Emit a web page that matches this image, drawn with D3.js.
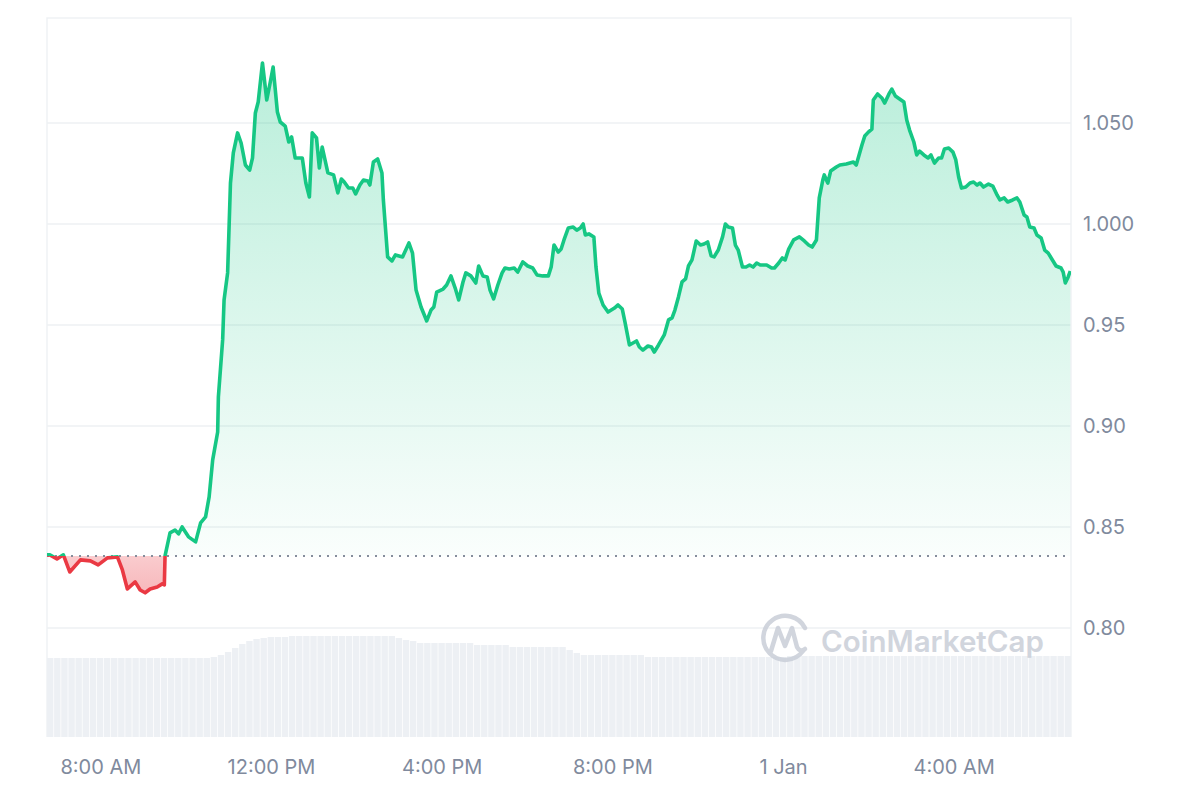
<!DOCTYPE html>
<html>
<head>
<meta charset="utf-8">
<script src="https://cdn.jsdelivr.net/npm/d3@7"></script>
<style>
  body { margin: 0; background: #fff; }
  svg { display: block; font-family: Inter, "Noto Sans", sans-serif; }
</style>
</head>
<body>
<script>
'use strict';

// minutes since 31 Dec 00:00
const times = [
  405, 409, 419, 428, 437, 452, 466, 477, 490, 504, 511, 518, 529, 536, 543, 550, 560, 567, 570, 571,
  578, 585, 590, 595, 604, 614, 621, 628, 633, 638, 645, 646, 652, 654, 659, 663, 667, 673, 678, 684,
  690, 694, 698, 702, 708, 714, 719, 723, 729, 733, 740, 745, 749, 754, 764, 769, 774, 778, 784, 788,
  792, 800, 808, 814, 819, 823, 829, 835, 839, 845, 850, 856, 859, 864, 870, 876, 878, 884, 890, 895,
  905, 914, 919, 924, 931, 939, 945, 949, 953, 962, 967, 973, 979, 984, 990, 994, 1001, 1008, 1012, 1018,
  1024, 1028, 1033, 1039, 1045, 1049, 1055, 1062, 1067, 1074, 1081, 1088, 1094, 1102, 1110, 1114, 1118, 1124, 1128, 1132,
  1138, 1145, 1150, 1155, 1159, 1162, 1167, 1174, 1177, 1181, 1187, 1194, 1203, 1208, 1214, 1218, 1224, 1229, 1234, 1238,
  1243, 1250, 1255, 1259, 1265, 1269, 1273, 1279, 1284, 1288, 1293, 1298, 1303, 1307, 1312, 1318, 1324, 1329, 1334, 1339,
  1343, 1349, 1355, 1359, 1363, 1369, 1373, 1377, 1383, 1388, 1393, 1398, 1403, 1408, 1417, 1424, 1428, 1434, 1439, 1443,
  1448, 1455, 1463, 1470, 1476, 1481, 1487, 1491, 1496, 1498, 1503, 1507, 1515, 1520, 1529, 1539, 1543, 1551, 1555, 1560,
  1565, 1567, 1573, 1579, 1583, 1589, 1593, 1598, 1604, 1610, 1614, 1618, 1624, 1628, 1632, 1638, 1644, 1648, 1653, 1659,
  1663, 1667, 1673, 1679, 1683, 1687, 1691, 1697, 1703, 1708, 1713, 1717, 1722, 1729, 1735, 1741, 1745, 1751, 1756, 1763,
  1769, 1773, 1779, 1783, 1787, 1793, 1797, 1803, 1808, 1813, 1818, 1824, 1831, 1834, 1837, 1841, 1844
];

const prices = [
  0.8362, 0.8362, 0.8342, 0.8362, 0.8277, 0.8337, 0.8332, 0.8312, 0.8347, 0.8352, 0.8287, 0.8193, 0.8228, 0.8188, 0.8174, 0.8193, 0.8203, 0.8218, 0.8213, 0.8357,
  0.8471, 0.8485, 0.8466, 0.8500, 0.8451, 0.8426, 0.8520, 0.8550, 0.8649, 0.8832, 0.8970, 0.9144, 0.9426, 0.9624, 0.9758, 1.0203, 1.0352, 1.0451, 1.0401, 1.0292,
  1.0267, 1.0327, 1.0550, 1.0604, 1.0797, 1.0614, 1.0703, 1.0777, 1.0554, 1.0505, 1.0485, 1.0406, 1.0431, 1.0327, 1.0327, 1.0203, 1.0134, 1.0451, 1.0426, 1.0277,
  1.0381, 1.0253, 1.0243, 1.0154, 1.0223, 1.0208, 1.0178, 1.0178, 1.0149, 1.0193, 1.0218, 1.0213, 1.0193, 1.0307, 1.0322, 1.0253, 1.0119, 0.9837, 0.9817, 0.9847,
  0.9837, 0.9906, 0.9856, 0.9673, 0.9589, 0.9520, 0.9574, 0.9589, 0.9663, 0.9678, 0.9698, 0.9743, 0.9683, 0.9624, 0.9713, 0.9758, 0.9743, 0.9708, 0.9792, 0.9743,
  0.9738, 0.9673, 0.9629, 0.9698, 0.9758, 0.9782, 0.9777, 0.9782, 0.9762, 0.9812, 0.9792, 0.9782, 0.9748, 0.9743, 0.9743, 0.9787, 0.9896, 0.9861, 0.9876, 0.9921,
  0.9980, 0.9985, 0.9970, 0.9980, 1.0000, 0.9946, 0.9951, 0.9936, 0.9787, 0.9658, 0.9599, 0.9564, 0.9584, 0.9599, 0.9579, 0.9510, 0.9401, 0.9411, 0.9421, 0.9391,
  0.9376, 0.9396, 0.9391, 0.9366, 0.9401, 0.9426, 0.9451, 0.9525, 0.9535, 0.9574, 0.9639, 0.9713, 0.9728, 0.9792, 0.9822, 0.9916, 0.9896, 0.9901, 0.9911, 0.9842,
  0.9837, 0.9871, 0.9936, 1.0000, 0.9985, 0.9980, 0.9896, 0.9871, 0.9787, 0.9787, 0.9797, 0.9787, 0.9807, 0.9797, 0.9797, 0.9782, 0.9782, 0.9807, 0.9832, 0.9822,
  0.9876, 0.9921, 0.9936, 0.9916, 0.9896, 0.9886, 0.9921, 1.0129, 1.0218, 1.0243, 1.0203, 1.0262, 1.0282, 1.0292, 1.0297, 1.0307, 1.0292, 1.0391, 1.0436, 1.0455,
  1.0470, 1.0614, 1.0644, 1.0624, 1.0599, 1.0644, 1.0668, 1.0634, 1.0619, 1.0604, 1.0515, 1.0465, 1.0406, 1.0342, 1.0361, 1.0342, 1.0327, 1.0342, 1.0302, 1.0327,
  1.0327, 1.0371, 1.0376, 1.0356, 1.0317, 1.0233, 1.0178, 1.0183, 1.0203, 1.0208, 1.0193, 1.0203, 1.0183, 1.0198, 1.0188, 1.0144, 1.0119, 1.0129, 1.0109, 1.0119,
  1.0129, 1.0109, 1.0045, 1.0035, 0.9985, 0.9980, 0.9946, 0.9931, 0.9871, 0.9856, 0.9827, 0.9792, 0.9782, 0.9762, 0.9708, 0.9738, 0.9767
];

const openPrice = 0.8356;

// volume in millions, one bar per 10 minutes
const volumes = [
  7.9, 7.9, 7.9, 7.9, 7.9, 7.9, 7.9, 7.9, 7.9, 7.9, 7.9, 7.9, 7.9, 7.9, 7.9, 7.9, 7.9, 7.9, 7.9, 7.9,
  7.9, 7.9, 7.9, 8.0, 8.2, 8.5, 8.9, 9.3, 9.6, 9.8, 9.9, 10.0, 10.0, 10.0, 10.1, 10.1, 10.1, 10.1, 10.1, 10.1,
  10.1, 10.1, 10.1, 10.1, 10.1, 10.1, 10.1, 10.1, 10.1, 9.9, 9.7, 9.6, 9.4, 9.4, 9.4, 9.4, 9.4, 9.4, 9.4, 9.4,
  9.2, 9.2, 9.2, 9.2, 9.2, 9.0, 9.0, 9.0, 9.0, 9.0, 9.0, 9.0, 9.0, 8.7, 8.4, 8.2, 8.2, 8.2, 8.2, 8.2,
  8.2, 8.2, 8.2, 8.2, 8.0, 8.0, 8.0, 8.0, 8.0, 8.0, 8.0, 8.0, 8.0, 8.0, 8.0, 8.0, 8.0, 8.0, 8.0, 8.0,
  8.0, 8.0, 8.0, 8.0, 8.1, 8.1, 8.1, 8.1, 8.1, 8.1, 8.1, 8.1, 8.1, 8.1, 8.1, 8.1, 8.1, 8.1, 8.1, 8.1,
  8.1, 8.1, 8.1, 8.1, 8.1, 8.1, 8.1, 8.1, 8.1, 8.1, 8.1, 8.1, 8.1, 8.1, 8.1, 8.1, 8.1, 8.1, 8.1, 8.1,
  8.1, 8.1, 8.1, 8.1
];

const yTicks = [0.80, 0.85, 0.90, 0.95, 1.00, 1.05];
const yTickLabels = ["0.80", "0.85", "0.90", "0.95", "1.000", "1.050"];
const xTicks = [480, 720, 960, 1200, 1440, 1680];
const xTickLabels = ["8:00 AM", "12:00 PM", "4:00 PM", "8:00 PM", "1 Jan", "4:00 AM"];

const green = "#16c784";
const red = "#ea3943";

const plotLeft = 47, plotRight = 1071, plotTop = 18, plotBottom = 737;

function toDate(m) { return new Date(2023, 11, 31, 0, m); }

const data = times.map((t, i) => ({ date: toDate(t), price: prices[i] }));

const svg = d3.select("body").append("svg")
  .attr("width", 1200)
  .attr("height", 800);

const x = d3.scaleTime()
  .domain([toDate(405), toDate(1845)])
  .range([plotLeft, plotRight]);

const y = d3.scaleLinear()
  .domain([0.746, 1.102])
  .range([plotBottom, plotTop]);

const baseY = y(openPrice);

const defs = svg.append("defs");

const grad = defs.append("linearGradient")
  .attr("id", "greenFill")
  .attr("gradientUnits", "userSpaceOnUse")
  .attr("x1", 0).attr("x2", 0)
  .attr("y1", y(d3.max(prices))).attr("y2", baseY);
grad.append("stop").attr("offset", "0%").attr("stop-color", green).attr("stop-opacity", 0.3);
grad.append("stop").attr("offset", "100%").attr("stop-color", green).attr("stop-opacity", 0.02);

const gradR = defs.append("linearGradient")
  .attr("id", "redFill")
  .attr("gradientUnits", "userSpaceOnUse")
  .attr("x1", 0).attr("x2", 0)
  .attr("y1", baseY).attr("y2", y(d3.min(prices)));
gradR.append("stop").attr("offset", "0%").attr("stop-color", red).attr("stop-opacity", 0.26);
gradR.append("stop").attr("offset", "100%").attr("stop-color", red).attr("stop-opacity", 0.36);

defs.append("clipPath").attr("id", "above")
  .append("rect").attr("x", plotLeft).attr("y", 0).attr("width", plotRight - plotLeft).attr("height", baseY);
defs.append("clipPath").attr("id", "below")
  .append("rect").attr("x", plotLeft).attr("y", baseY).attr("width", plotRight - plotLeft).attr("height", 800 - baseY);

// frame
svg.append("path")
  .attr("d", `M${plotLeft},${plotBottom}V${plotTop}H${plotRight}V${plotBottom}`)
  .attr("fill", "none")
  .attr("stroke", "#eff2f5")
  .attr("stroke-width", 1.5);

// grid lines
svg.append("g")
  .selectAll("line")
  .data(yTicks)
  .join("line")
  .attr("x1", plotLeft).attr("x2", plotRight)
  .attr("y1", d => y(d)).attr("y2", d => y(d))
  .attr("stroke", "#eef0f3")
  .attr("stroke-width", 1.5);

// volume bars
const xb = d3.scaleBand()
  .domain(d3.range(volumes.length))
  .range([plotLeft, plotRight])
  .paddingInner(0.1);

const yv = d3.scaleLinear()
  .domain([0, 10.1])
  .range([plotBottom, 636]);

svg.append("g")
  .selectAll("rect")
  .data(volumes)
  .join("rect")
  .attr("x", (d, i) => xb(i))
  .attr("width", xb.bandwidth())
  .attr("y", d => yv(d))
  .attr("height", d => plotBottom - yv(d))
  .attr("fill", "#edf0f4");

// watermark
const wm = svg.append("g").attr("opacity", 0.85);
wm.append("path")
  .attr("d", "M803,651 A22,22 0 1 1 805,628")
  .attr("fill", "none")
  .attr("stroke", "#c9ced8")
  .attr("stroke-width", 4.5)
  .attr("stroke-linecap", "round");
wm.append("path")
  .attr("d", "M771,651 L778,628 L785,646 L792,628 L797,647 Q800,653 805,649")
  .attr("fill", "none")
  .attr("stroke", "#c9ced8")
  .attr("stroke-width", 4.5)
  .attr("stroke-linejoin", "round")
  .attr("stroke-linecap", "round");
wm.append("text")
  .attr("x", 821)
  .attr("y", 652)
  .attr("font-size", 29.5)
  .attr("font-weight", 600)
  .attr("fill", "#c9ced8")
  .text("CoinMarketCap");

// price areas
const area = d3.area()
  .x(d => x(d.date))
  .y0(baseY)
  .y1(d => y(d.price));

svg.append("path")
  .datum(data)
  .attr("d", area)
  .attr("fill", "url(#greenFill)")
  .attr("clip-path", "url(#above)");

svg.append("path")
  .datum(data)
  .attr("d", area)
  .attr("fill", "url(#redFill)")
  .attr("clip-path", "url(#below)");

// open price line
svg.append("line")
  .attr("x1", plotLeft).attr("x2", plotRight)
  .attr("y1", baseY).attr("y2", baseY)
  .attr("stroke", "#858d9c")
  .attr("stroke-width", 2)
  .attr("stroke-dasharray", "2,6");

// price lines
const line = d3.line()
  .x(d => x(d.date))
  .y(d => y(d.price));

svg.append("path")
  .datum(data)
  .attr("d", line)
  .attr("fill", "none")
  .attr("stroke", green)
  .attr("stroke-width", 3.6)
  .attr("stroke-linejoin", "round")
  .attr("clip-path", "url(#above)");

svg.append("path")
  .datum(data)
  .attr("d", line)
  .attr("fill", "none")
  .attr("stroke", red)
  .attr("stroke-width", 3.6)
  .attr("stroke-linejoin", "round")
  .attr("clip-path", "url(#below)");

// axes
const yAxis = d3.axisRight(y)
  .tickValues(yTicks)
  .tickSize(0)
  .tickPadding(0)
  .tickFormat((d, i) => yTickLabels[i]);

svg.append("g")
  .attr("transform", `translate(1083,0)`)
  .call(yAxis)
  .call(g => g.select(".domain").remove())
  .selectAll("text")
  .attr("font-size", 20)
  .attr("font-family", "Inter, sans-serif")
  .attr("fill", "#808a9d");

const xAxis = d3.axisBottom(x)
  .tickValues(xTicks.map(toDate))
  .tickSize(0)
  .tickPadding(0)
  .tickFormat((d, i) => xTickLabels[i]);

svg.append("g")
  .attr("transform", `translate(0,760)`)
  .call(xAxis)
  .call(g => g.select(".domain").remove())
  .selectAll("text")
  .attr("font-size", 20)
  .attr("font-family", "Inter, sans-serif")
  .attr("fill", "#808a9d");
</script>
</body>
</html>
